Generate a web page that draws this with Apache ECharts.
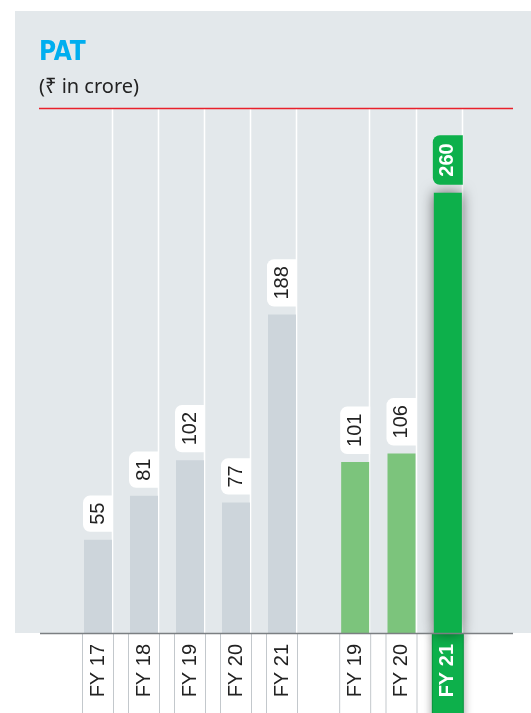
<!DOCTYPE html>
<html>
<head>
<meta charset="utf-8">
<script src="https://cdn.jsdelivr.net/npm/echarts@6/dist/echarts.min.js"></script>
<style>
  html, body { margin: 0; padding: 0; background: #fff; }
  #main { width: 531px; height: 713px; }
</style>
</head>
<body>
<div id="main"></div>
<script type="text/javascript">
    // 数据
    var catsOld = ['FY 17', 'FY 18', 'FY 19', 'FY 20', 'FY 21'];
    var patOld = [55, 81, 102, 77, 188];
    var catsNew = ['FY 19', 'FY 20', 'FY 21'];
    var patNew = [101, 106, 260];
    var highlightIdx = 2; // FY 21 in the right group

    var Y_MAX = 310;
    var BAR_W = 28;
    var FONT = '"Liberation Sans", Arial, sans-serif';

    var myChart = echarts.init(document.getElementById('main'));

    // white separators at the right edge of every bar
    function edgeLine(params, api) {
        var base = api.coord([api.value(0), 0]);
        var top = api.coord([api.value(0), Y_MAX]);
        var x = Math.round(base[0] + BAR_W / 2) + 0.5;
        return {
            type: 'line',
            shape: { x1: x, y1: top[1] + 1, x2: x, y2: base[1] },
            style: { stroke: '#ffffff', lineWidth: 1.5 }
        };
    }

    var barLabel = {
        show: true,
        position: 'top',
        distance: 8,
        rotate: 90,
        align: 'left',
        verticalAlign: 'middle',
        fontFamily: FONT,
        fontSize: 20,
        lineHeight: 20,
        color: '#222',
        backgroundColor: '#fff',
        padding: [5, 7, 5, 7],
        borderRadius: [7, 7, 0, 0]
    };

    var axisLabelBase = {
        interval: 0,
        rotate: 90,
        margin: 1,
        fontFamily: FONT,
        fontSize: 20,
        lineHeight: 20,
        color: '#222',
        backgroundColor: '#fff',
        borderColor: '#c3c8cc',
        borderWidth: 1,
        padding: [5, 10, 5, 30]
    };

    var newData = patNew.map(function (v, i) {
        if (i === highlightIdx) {
            return {
                value: v,
                itemStyle: { color: '#0db04b', shadowBlur: 14, shadowColor: 'rgba(0,0,0,0.55)' },
                label: {
                    backgroundColor: '#0db04b', color: '#fff', fontWeight: 'bold',
                    padding: [5, 8, 5, 8]
                }
            };
        }
        return { value: v, itemStyle: { color: '#7cc47c' } };
    });

    var newCats = catsNew.map(function (c, i) {
        if (i === highlightIdx) {
            return {
                value: c,
                textStyle: {
                    color: '#fff', fontWeight: 'bold',
                    backgroundColor: '#0db04b', borderColor: '#0db04b',
                    shadowBlur: 10, shadowColor: 'rgba(0,0,0,0.35)'
                }
            };
        }
        return c;
    });

    var option = {
        animation: false,
        graphic: [
            { type: 'rect', z: -10, shape: { x: 15, y: 11, width: 516, height: 622 }, style: { fill: '#e3e8eb' } },
            { type: 'line', z: 100, shape: { x1: 39, y1: 108.5, x2: 513, y2: 108.5 }, style: { stroke: '#e9202b', lineWidth: 1.5 } },
            { type: 'line', z: 100, shape: { x1: 40, y1: 633.5, x2: 513, y2: 633.5 }, style: { stroke: '#7b7f82', lineWidth: 1.5 } }
        ],
        title: {
            text: 'PAT',
            subtext: '(₹ in crore)',
            left: 34,
            top: 35,
            itemGap: 11,
            textStyle: { fontFamily: '"Liberation Sans Narrow", "DejaVu Sans Condensed", sans-serif', fontSize: 26, fontWeight: 'bold', color: '#00aeef' },
            subtextStyle: { fontFamily: '"Noto Sans", "DejaVu Sans", sans-serif', fontSize: 20, color: '#222' }
        },
        grid: [
            { left: 75, width: 230, top: 108, bottom: 80, outerBoundsMode: 'none', containLabel: false },
            { left: 332, width: 139, top: 108, bottom: 80, outerBoundsMode: 'none', containLabel: false }
        ],
        xAxis: [
            {
                type: 'category', gridIndex: 0, data: catsOld,
                axisLine: { show: false }, axisTick: { show: false },
                axisLabel: axisLabelBase
            },
            {
                type: 'category', gridIndex: 1, data: newCats,
                axisLine: { show: false }, axisTick: { show: false },
                axisLabel: axisLabelBase
            }
        ],
        yAxis: [
            { type: 'value', gridIndex: 0, min: 0, max: Y_MAX, show: false },
            { type: 'value', gridIndex: 1, min: 0, max: Y_MAX, show: false }
        ],
        series: [
            { type: 'custom', xAxisIndex: 0, yAxisIndex: 0, z: 1, silent: true,
              data: catsOld.map(function (c, i) { return [i, 0]; }), renderItem: edgeLine },
            { type: 'custom', xAxisIndex: 1, yAxisIndex: 1, z: 1, silent: true,
              data: catsNew.map(function (c, i) { return [i, 0]; }), renderItem: edgeLine },
            {
                name: 'PAT', type: 'bar', xAxisIndex: 0, yAxisIndex: 0, z: 3,
                barWidth: BAR_W,
                itemStyle: { color: '#cdd5db' },
                label: barLabel,
                data: patOld
            },
            {
                name: 'PAT', type: 'bar', xAxisIndex: 1, yAxisIndex: 1, z: 3,
                barWidth: BAR_W,
                label: barLabel,
                data: newData
            }
        ]
    };

    myChart.setOption(option);
</script>
</body>
</html>
